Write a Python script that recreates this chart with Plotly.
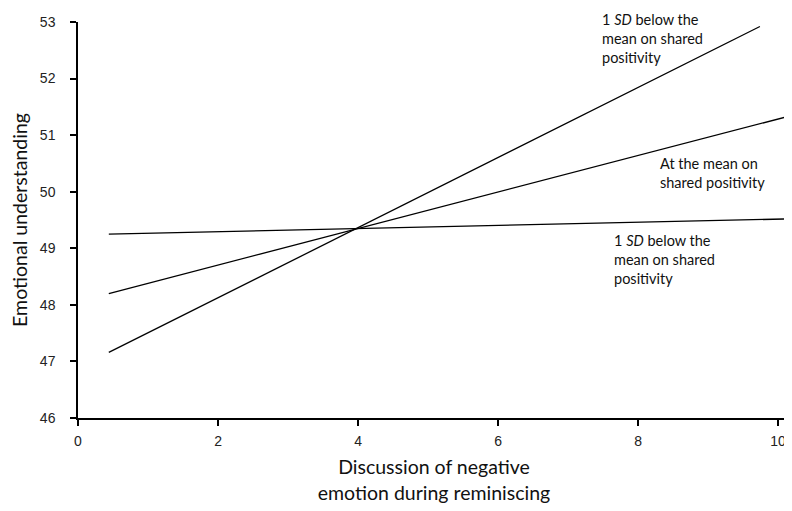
import plotly.graph_objects as go

# Data (simple slopes)
x_low = [0.44, 9.74]          # 1 SD below (steep line)
y_low = [47.16, 52.92]
x_mean = [0.44, 10.17]        # at the mean
y_mean = [48.20, 51.34]
x_high = [0.44, 10.17]        # flat line
y_high = [49.25, 49.52]

x_ticks = [0, 2, 4, 6, 8, 10]
y_ticks = [46, 47, 48, 49, 50, 51, 52, 53]

label_low = "1 <i>SD</i> below the<br>mean on shared<br>positivity"
label_mean = "At the mean on<br>shared positivity"
label_high = "1 <i>SD</i> below the<br>mean on shared<br>positivity"

fig = go.Figure()
for xs, ys in [(x_low, y_low), (x_mean, y_mean), (x_high, y_high)]:
    fig.add_trace(go.Scatter(x=xs, y=ys, mode="lines",
                             line=dict(color="black", width=1.3),
                             showlegend=False, hoverinfo="skip"))

ann_font = dict(family="Lato, Noto Sans, sans-serif", size=14.5, color="#111")
# (text, x data, y paper)
for txt, ax, ay in [(label_low, 7.46, 1.033), (label_mean, 8.28, 0.67), (label_high, 7.63, 0.476)]:
    fig.add_annotation(x=ax, y=ay, xref="x", yref="paper", text=txt, showarrow=False,
                       xanchor="left", yanchor="top", align="left", font=ann_font)

tick_font = dict(family="Liberation Sans, Arial", size=14, color="#222")
title_font = dict(family="Lato, Noto Sans, sans-serif", size=19.5, color="#111")

fig.update_layout(
    width=784, height=503,
    margin=dict(l=70, r=2, t=14, b=93),
    plot_bgcolor="white", paper_bgcolor="white",
    xaxis=dict(range=[0, 10.17], tickvals=x_ticks, showgrid=False, zeroline=False,
               showline=True, linecolor="black", linewidth=1.5, automargin=False,
               ticks="outside", ticklen=6, tickcolor="black", tickwidth=1.5,
               ticklabelstandoff=3,
               tickfont=tick_font,
               title=dict(text="Discussion of negative<br>emotion during reminiscing",
                          font=title_font, standoff=13)),
    yaxis=dict(range=[46, 53], tickvals=y_ticks, showgrid=False, zeroline=False,
               showline=True, linecolor="black", linewidth=1.5, automargin=False,
               ticks="outside", ticklen=6, tickcolor="black", tickwidth=1.5,
               ticklabelstandoff=12,
               tickfont=tick_font,
               title=dict(text="Emotional understanding",
                          font=title_font, standoff=21)),
)

fig.write_html("out.html")
